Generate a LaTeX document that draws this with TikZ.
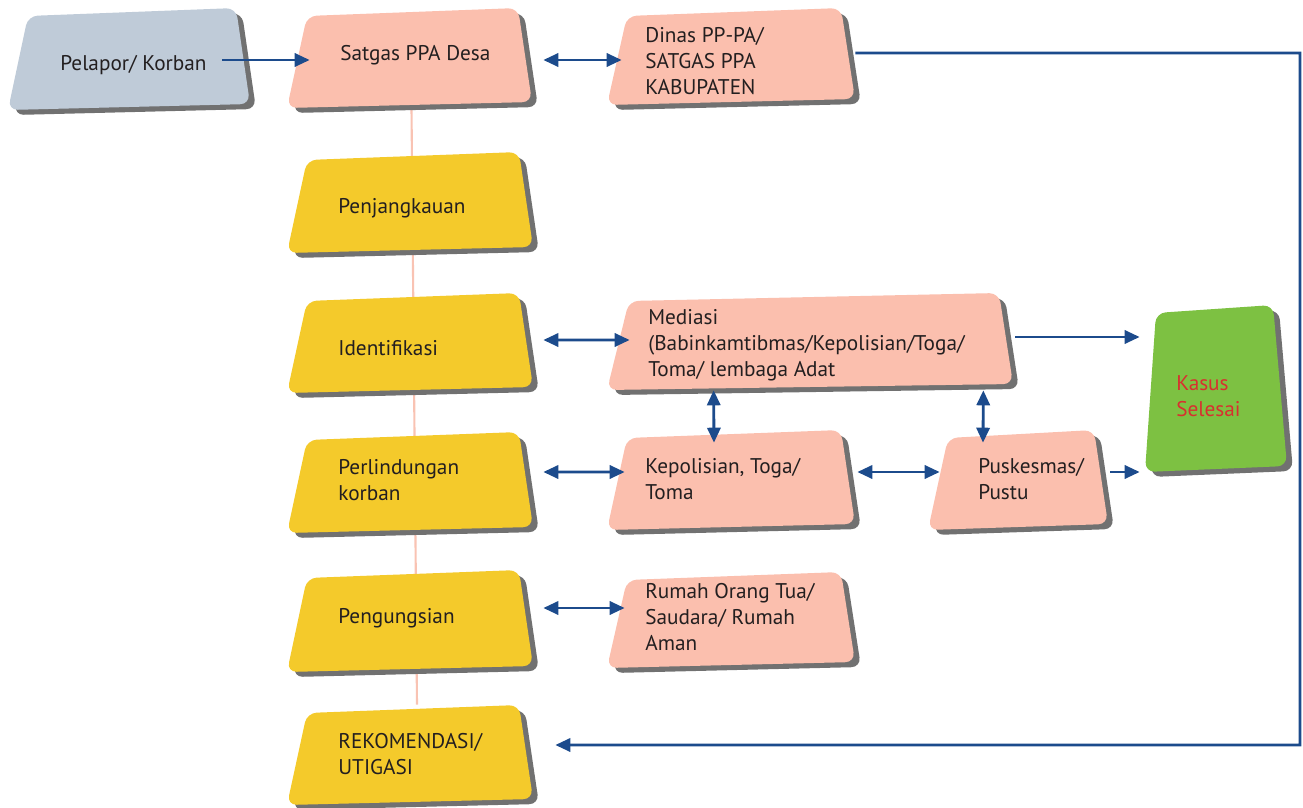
\documentclass[tikz,border=0pt]{standalone}
\usepackage{fontspec}
\setmainfont{PT Sans}
\usetikzlibrary{arrows.meta,calc,fit,backgrounds}

\definecolor{txt}{HTML}{231F20}
\definecolor{shadowc}{HTML}{717171}
\definecolor{reporter}{HTML}{BFCBD8}
\definecolor{salmon}{HTML}{FBBFAE}
\definecolor{stepyellow}{HTML}{F4CA2B}
\definecolor{donegreen}{HTML}{7DC142}
\definecolor{donered}{HTML}{D8302F}
\definecolor{arrowc}{HTML}{1C4B8C}
\definecolor{spine}{HTML}{F9C3B3}

\tikzset{
  lbl/.style={anchor=west, align=left, inner sep=0pt, text=txt,
              font=\fontsize{12.1}{14.9}\selectfont},
  arr/.style={draw=arrowc, line width=1.6pt,
              -{Triangle[length=8.5pt,width=7.5pt]}},
  darr/.style={arr, {Triangle[length=8.5pt,width=7.5pt]}-{Triangle[length=8.5pt,width=7.5pt]}},
}

% slanted rounded box with a drop shadow; a named node spans its extent
% #1 name, #2 x1, #3 y1, #4 x2, #5 y2, #6 fill colour, #7 left slant
\newcommand\flowbox[7]{%
  \fill[shadowc, rounded corners=5.5pt]
    ({#2+#7+6},{#3+13}) -- ({#4-8},{#3+5}) -- ({#4+6},{#5-1}) -- ({#2+6},{#5+5}) -- cycle;
  \fill[#6, rounded corners=5.5pt]
    ({#2+#7},{#3+8}) -- ({#4-14},{#3}) -- ({#4},{#5-6}) -- ({#2},{#5}) -- cycle;
  \coordinate (#1-a) at (#2,#3);
  \coordinate (#1-b) at (#4,#5);
  \node[fit=(#1-a)(#1-b), inner sep=0pt] (#1) {};
}

\begin{document}
\begin{tikzpicture}[x=0.02cm, y=-0.02cm]
  \useasboundingbox (0,0) rectangle (1303,808);

  % boxes
  \flowbox{pel}{8}{8}{250}{110}{reporter}{20}
  \flowbox{satgas}{287}{8}{532}{108}{salmon}{20}
  \flowbox{dinas}{607}{8}{855}{105}{salmon}{20}
  \flowbox{jangkau}{287}{152}{533}{253}{stepyellow}{20}
  \flowbox{ident}{287}{293}{533}{393}{stepyellow}{20}
  \flowbox{mediasi}{607}{293}{1013}{390}{salmon}{22}
  \flowbox{kasus}{1145}{305}{1287}{472}{donegreen}{11}
  \flowbox{perl}{287}{432}{533}{533}{stepyellow}{20}
  \flowbox{kep}{607}{430}{855}{530}{salmon}{20}
  \flowbox{pusk}{928}{430}{1108}{530}{salmon}{20}
  \flowbox{ungsi}{287}{570}{533}{672}{stepyellow}{20}
  \flowbox{rumah}{607}{572}{855}{668}{salmon}{20}
  \flowbox{rekom}{287}{705}{533}{805}{stepyellow}{20}

  % labels
  \node[lbl] (pel-t) at (60,65) {Pelapor/ Korban};
  \node[lbl] (satgas-t) at (340,55) {Satgas PPA Desa};
  \node[lbl] (dinas-t) at (645,61) {Dinas PP-PA/\\SATGAS PPA\\KABUPATEN};
  \node[lbl] (jangkau-t) at (338,208) {Penjangkauan};
  \node[lbl] (ident-t) at (338,348) {Identifikasi};
  \node[lbl] (mediasi-t) at (648,345) {Mediasi\\(Babinkamtibmas/Kepolisian/Toga/\\Toma/ lembaga Adat};
  \node[lbl, text=donered] (kasus-t) at (1176,396) {Kasus\\Selesai};
  \node[lbl] (perl-t) at (338,480) {Perlindungan\\korban};
  \node[lbl] (kep-t) at (645,479) {Kepolisian, Toga/\\Toma};
  \node[lbl] (pusk-t) at (978,479) {Puskesmas/\\Pustu};
  \node[lbl] (ungsi-t) at (338,618) {Pengungsian};
  \node[lbl] (rumah-t) at (645,617) {Rumah Orang Tua/\\Saudara/ Rumah\\Aman};
  \node[lbl] (rekom-t) at (338,754) {REKOMENDASI/\\UTIGASI};

  % spine behind the step boxes
  \begin{scope}[on background layer]
    \draw[spine, line width=1.2pt] ($(satgas.south)+(2,0)$) -- ($(rekom.north)+(7,0)$);
  \end{scope}

  % connectors
  \draw[arr]  ($(pel.east)+(-28,1)$) -- ($(satgas.west)+(23,2)$);
  \draw[darr] ($(satgas.east)+(11,2)$) -- ($(dinas.west)+(15,3.5)$);
  \coordinate (rt) at (1300,53);
  \draw[arr]  ($(dinas.east)+(0,-3.5)$) -- (rt) |- ($(rekom.east)+(22,-10)$);
  \draw[darr] ($(ident.east)+(10,-3)$) -- ($(mediasi.west)+(23,-1.5)$);
  \draw[arr]  ($(mediasi.east)+(2,-4.5)$) -- ($(kasus.west)+(-5,-51.5)$);
  \draw[darr] ($(mediasi.south west)+(107,0)$) -- ($(kep.north)+(-17,13)$);
  \draw[darr] ($(mediasi.south east)+(-30,0)$) -- ($(pusk.north)+(-35,13)$);
  \draw[darr] ($(perl.east)+(10,-10.5)$) -- ($(kep.west)+(18,-8)$);
  \draw[darr] ($(kep.east)+(2,-8)$) -- ($(pusk.west)+(12,-8)$);
  \draw[arr]  ($(pusk.east)+(2,-8)$) -- ($(kasus.west)+(-5,83.5)$);
  \draw[darr] ($(ungsi.east)+(10,-13)$) -- ($(rumah.west)+(18,-12)$);
\end{tikzpicture}
\end{document}
